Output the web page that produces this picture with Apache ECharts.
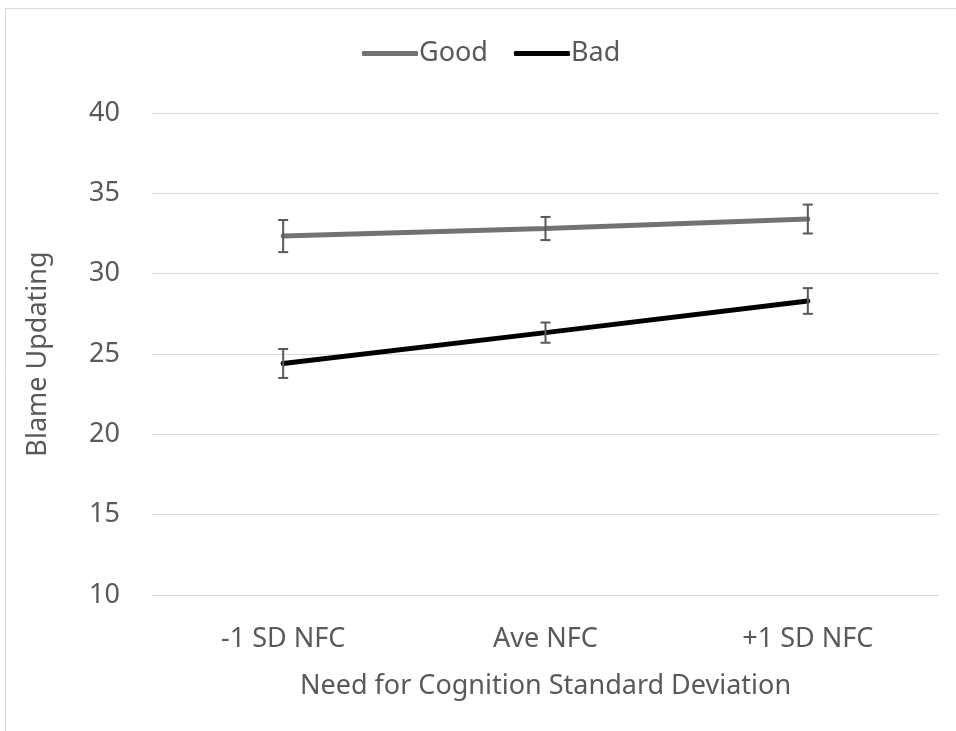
<!DOCTYPE html>
<html><head><meta charset="utf-8">
<script src="https://cdn.jsdelivr.net/npm/echarts@6/dist/echarts.min.js"></script>
<style>html,body{margin:0;padding:0;background:#fff}#c{width:956px;height:731px}</style>
</head><body><div id="c"></div>
<script>
const categories = ['-1 SD NFC', 'Ave NFC', '+1 SD NFC'];
const goodValues = [32.34, 32.81, 33.40];
const goodErrors = [1.0, 0.72, 0.9];
const badValues = [24.41, 26.33, 28.30];
const badErrors = [0.9, 0.63, 0.8];
const yTicks = [10, 15, 20, 25, 30, 35, 40];

const FONT = 'Noto Sans';
const FS = 27;
const chart = echarts.init(document.getElementById('c'));

function errData(vals, errs) {
  return vals.map((v, i) => [i, v - errs[i], v + errs[i]]);
}
function errRender(params, api) {
  const x = api.value(0);
  const lo = api.coord([x, api.value(1)]);
  const hi = api.coord([x, api.value(2)]);
  const hw = 5;
  const st = { stroke: '#595959', lineWidth: 2 };
  return {
    type: 'group',
    children: [
      { type: 'line', shape: { x1: lo[0], y1: lo[1], x2: hi[0], y2: hi[1] }, style: st },
      { type: 'line', shape: { x1: lo[0] - hw, y1: lo[1], x2: lo[0] + hw, y2: lo[1] }, style: st },
      { type: 'line', shape: { x1: hi[0] - hw, y1: hi[1], x2: hi[0] + hw, y2: hi[1] }, style: st }
    ]
  };
}

chart.setOption({
  animation: false,
  textStyle: { fontFamily: FONT },
  graphic: [{
    type: 'rect', shape: { x: 5.5, y: 8.5, width: 2000, height: 2000 },
    style: { fill: 'none', stroke: '#d9d9d9', lineWidth: 1 }, silent: true
  }],
  legend: {
    top: 35, left: 357, itemWidth: 56, itemHeight: 5, itemGap: 26,
    icon: 'roundRect',
    textStyle: { fontFamily: FONT, fontSize: FS, color: '#595959', padding: [0, 0, 0, -4] },
    data: [
      { name: 'Good', itemStyle: { color: '#767171' } },
      { name: 'Bad', itemStyle: { color: '#000000' } }
    ]
  },
  grid: { left: 152, right: 17, top: 113, bottom: 136, containLabel: false },
  xAxis: {
    type: 'category', data: categories,
    name: 'Need for Cognition Standard Deviation', nameLocation: 'middle', nameGap: 78,
    nameTextStyle: { fontFamily: FONT, fontSize: FS, color: '#595959' },
    axisLine: { show: false }, axisTick: { show: false },
    axisLabel: { fontFamily: FONT, fontSize: FS, color: '#595959', margin: 31 }
  },
  yAxis: {
    type: 'value', min: yTicks[0], max: yTicks[yTicks.length - 1], interval: 5,
    name: 'Blame Updating', nameLocation: 'middle', nameGap: 100, nameRotate: 90,
    nameTextStyle: { fontFamily: FONT, fontSize: FS, color: '#595959' },
    axisLine: { show: false }, axisTick: { show: false },
    axisLabel: { fontFamily: FONT, fontSize: FS, color: '#595959', margin: 32 },
    splitLine: { lineStyle: { color: '#d9d9d9', width: 1 } }
  },
  series: [
    { name: 'Good', type: 'line', data: goodValues, symbol: 'none', z: 3,
      lineStyle: { color: '#767171', width: 5, cap: 'round' }, itemStyle: { color: '#767171' } },
    { name: 'Bad', type: 'line', data: badValues, symbol: 'none', z: 3,
      lineStyle: { color: '#000000', width: 5, cap: 'round' }, itemStyle: { color: '#000000' } },
    { type: 'custom', data: errData(goodValues, goodErrors), renderItem: errRender, z: 4,
      encode: { x: 0, y: [1, 2] } },
    { type: 'custom', data: errData(badValues, badErrors), renderItem: errRender, z: 4,
      encode: { x: 0, y: [1, 2] } }
  ]
});
</script></body></html>
